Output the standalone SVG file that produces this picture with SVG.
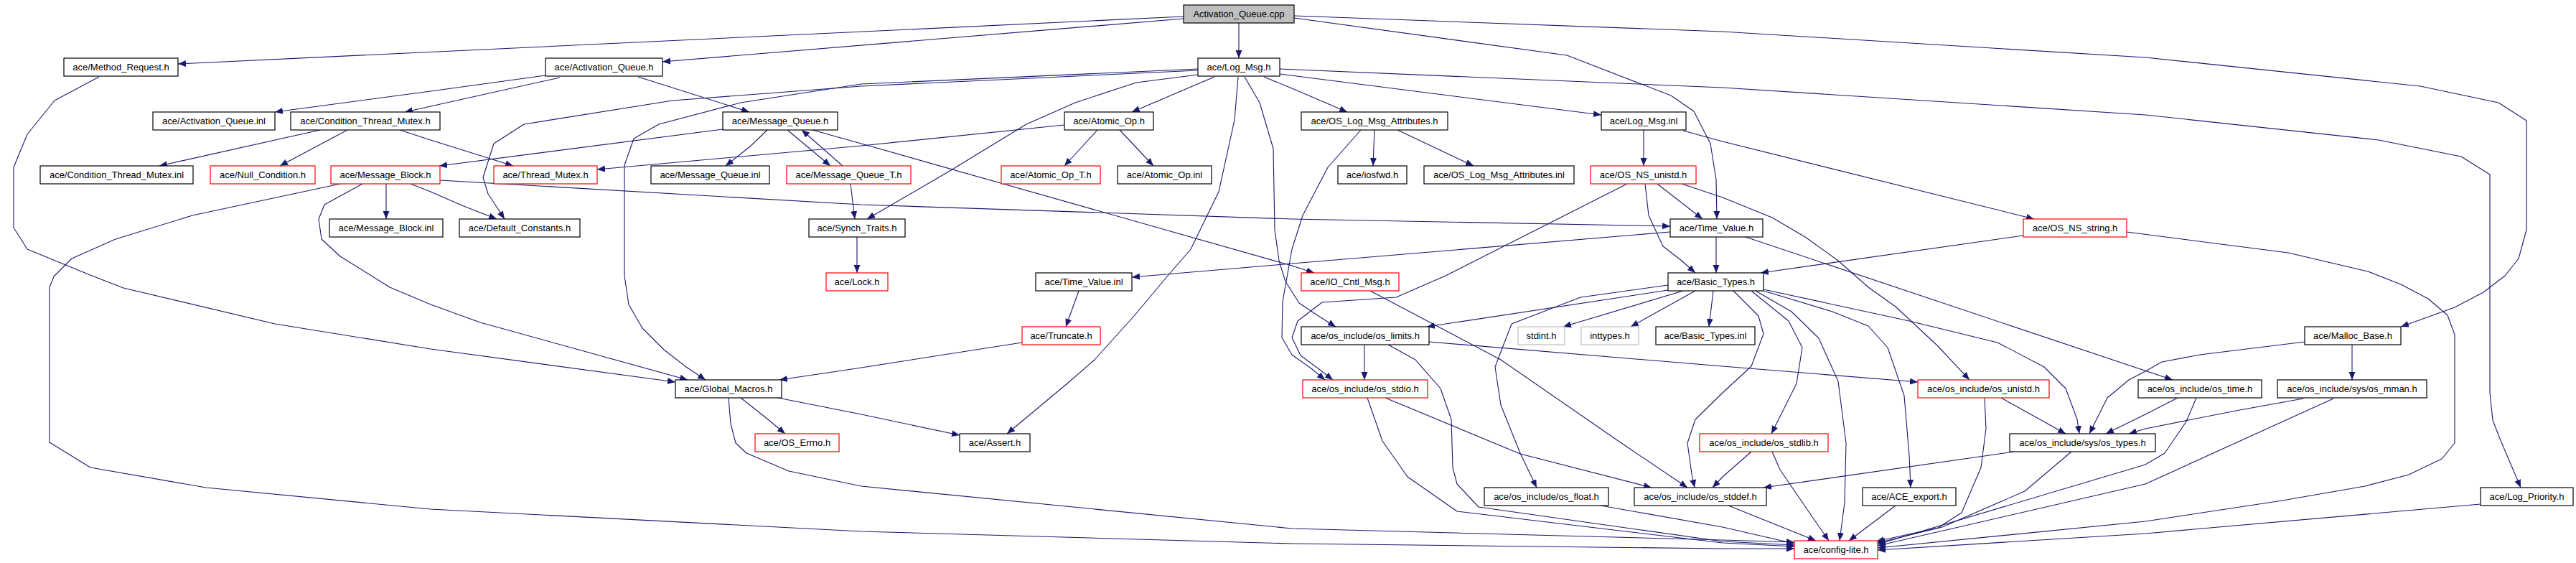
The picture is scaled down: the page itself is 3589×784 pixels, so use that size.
<svg xmlns="http://www.w3.org/2000/svg" width="3589" height="784" viewBox="0 0 3589 784">
<defs>
<marker id="ah" markerWidth="12" markerHeight="10" refX="11" refY="4.5" orient="auto" markerUnits="userSpaceOnUse"><path d="M0,0 L11,4.5 L0,9 z" fill="#191970"/></marker>
<style>
.n rect{fill:#fff;stroke:#000;stroke-width:1.2}
.n.r rect{stroke:#ff0000}
.n.g rect{stroke:#bfbfbf}
.n.root rect{fill:#bfbfbf}
.n text{font-family:"Liberation Sans",Arial,sans-serif;font-size:13px;fill:#000;text-anchor:middle}
#edges path{fill:none;stroke:#191970;stroke-width:1.1;stroke-linejoin:round;marker-end:url(#ah)}
</style>
</defs>
<rect width="3589" height="784" fill="#fff"/>
<g id="edges">
<path d="M1649,23 L248,89"/>
<path d="M1649,26 L923,86"/>
<path d="M1726,32 L1726,81"/>
<path d="M1803,25 L2183,77 L2328,133 L2360,155 L2383,200 L2391,250 L2392,305"/>
<path d="M1803,22 L2400,44 L2989,80 L3372,120 L3481,143 L3520,168 L3520,320 L3509,360 L3490,384 L3460,407 L3420,428 L3345,455"/>
<path d="M1692,107 L1577,156"/>
<path d="M1761,107 L1800,123 L1877,156"/>
<path d="M1783,103 L2231,160"/>
<path d="M1783,96 L2400,122 L2989,160 L3314,195 L3429,218 L3469,243 L3469,547 L3473,585 L3483,611 L3512,679"/>
<path d="M1669,104 L1583,115 L1498,143 L1430,173 L1320,240 L1208,305"/>
<path d="M1669,96 L1200,117 L1032,143 L918,173 L883,193 L870,230 L870,384 L876,424 L895,457 L925,487 L956,511 L983,529"/>
<path d="M1669,98 L1200,120 L937,140 L730,173 L688,200 L673,247 L680,270 L703,305"/>
<path d="M1725,107 L1720,167 L1698,267 L1659,347 L1627,384 L1580,440 L1525,501 L1487,534 L1403,604"/>
<path d="M1734,107 L1755,143 L1774,207 L1776,320 L1782,363 L1791,392 L1810,422 L1840,442 L1861,455"/>
<path d="M138,107 L76,140 L38,187 L19,233 L19,317 L38,347 L128,384 L172,401 L383,451 L600,486 L941,532"/>
<path d="M760,105 L600,127 L383,156"/>
<path d="M780,108 L600,148 L564,156"/>
<path d="M889,107 L1044,156"/>
<path d="M446,181 L222,231"/>
<path d="M484,181 L390,231"/>
<path d="M557,181 L600,195 L715,231"/>
<path d="M1007,180 L612,231"/>
<path d="M1069,181 L1045,204 L1011,231"/>
<path d="M1097,181 L1157,231"/>
<path d="M1174,231 L1117,181"/>
<path d="M1132,181 L1200,200 L1800,370 L1831,380"/>
<path d="M1185,256 L1191,305"/>
<path d="M1194,330 L1194,380"/>
<path d="M1529,181 L1483,231"/>
<path d="M1560,181 L1607,231"/>
<path d="M1483,174 L1200,203 L832,236"/>
<path d="M538,256 L538,305"/>
<path d="M572,256 L600,267 L646,287 L692,305"/>
<path d="M613,251 L1200,285 L1800,305 L2327,315"/>
<path d="M505,256 L452,285 L444,305 L448,333 L474,357 L543,400 L600,424 L669,449 L958,529"/>
<path d="M474,256 L268,300 L161,333 L100,360 L75,385 L69,400 L69,616 L126,651 L287,679 L600,709 L1200,740 L1800,757 L2400,764 L2500,764"/>
<path d="M1503,405 L1485,455"/>
<path d="M1424,477 L1200,512 L1086,529"/>
<path d="M1032,554 L1065,580 L1094,604"/>
<path d="M1084,554 L1200,577 L1337,606"/>
<path d="M1015,554 L1018,590 L1025,617 L1040,631 L1099,656 L1200,677 L1800,736 L2400,752 L2500,755"/>
<path d="M1915,181 L1913,231"/>
<path d="M1947,181 L2053,231"/>
<path d="M1896,181 L1850,233 L1815,300 L1800,347 L1787,420 L1786,470 L1800,494 L1828,514 L1846,529"/>
<path d="M2290,181 L2290,231"/>
<path d="M2345,182 L2400,197 L2834,305"/>
<path d="M2309,256 L2372,305"/>
<path d="M2292,256 L2297,300 L2317,343 L2343,363 L2362,380"/>
<path d="M2343,256 L2400,275 L2469,303 L2515,330 L2561,363 L2603,400 L2641,427 L2699,481 L2744,529"/>
<path d="M2267,256 L2014,384 L1945,414 L1842,421 L1808,447 L1800,470 L1812,495 L1835,512 L1857,529"/>
<path d="M2391,330 L2391,380"/>
<path d="M2327,323 L1800,367 L1577,386"/>
<path d="M2432,330 L3027,529"/>
<path d="M2819,328 L2453,380"/>
<path d="M2963,323 L3188,352 L3299,378 L3345,396 L3383,416 L3410,439 L3420,466 L3420,617 L3402,639 L3356,661 L3295,677 L3180,697 L2989,726 L2616,763"/>
<path d="M2324,404 L1988,455"/>
<path d="M2345,405 L2178,455"/>
<path d="M2362,405 L2272,455"/>
<path d="M2387,405 L2381,455"/>
<path d="M2324,397 L2202,414 L2106,451 L2083,511 L2091,564 L2118,631 L2141,679"/>
<path d="M2415,405 L2450,440 L2457,465 L2440,510 L2400,547 L2362,584 L2351,617 L2357,660 L2361,679"/>
<path d="M2440,405 L2492,447 L2511,484 L2503,534 L2468,604"/>
<path d="M2446,405 L2496,434 L2534,471 L2561,531 L2572,617 L2570,700 L2563,753"/>
<path d="M2457,405 L2553,434 L2603,454 L2630,484 L2653,551 L2660,634 L2662,679"/>
<path d="M2457,403 L2660,447 L2783,477 L2848,511 L2878,541 L2894,584 L2897,604"/>
<path d="M1901,480 L1901,529"/>
<path d="M1991,476 L2400,510 L2672,532"/>
<path d="M1934,480 L1972,501 L2007,541 L2022,584 L2024,651 L2030,674 L2060,706 L2400,754 L2500,759"/>
<path d="M1930,554 L2118,632 L2301,679"/>
<path d="M1905,554 L1926,614 L1961,664 L2030,712 L2400,756 L2500,761"/>
<path d="M1909,405 L2091,501 L2259,617 L2351,679"/>
<path d="M2230,704 L2400,734 L2500,757"/>
<path d="M2408,704 L2530,753"/>
<path d="M2469,629 L2480,654 L2523,717 L2548,753"/>
<path d="M2440,629 L2400,664 L2386,679"/>
<path d="M2806,629 L2457,679"/>
<path d="M2886,629 L2821,684 L2706,734 L2616,756"/>
<path d="M2641,704 L2576,753"/>
<path d="M2788,554 L2878,604"/>
<path d="M2765,554 L2767,597 L2760,651 L2733,714 L2700,735 L2614,754"/>
<path d="M3034,554 L2989,577 L2934,604"/>
<path d="M3060,554 L3046,587 L3016,631 L2989,647 L2616,758"/>
<path d="M3211,476 L3065,494 L3012,504 L2989,517 L2966,529 L2936,554 L2911,604"/>
<path d="M3277,480 L3277,529"/>
<path d="M3209,555 L3115,572 L2989,597 L2966,604"/>
<path d="M3251,555 L2989,674 L2616,760"/>
<path d="M3456,702 L2989,743 L2616,766"/>
</g>
<g id="n_cpp" class="n root"><rect x="1649" y="7" width="154" height="25"/><text x="1726" y="24">Activation_Queue.cpp</text></g>
<g id="n_method_request" class="n"><rect x="89" y="81" width="159" height="25"/><text x="168.5" y="98">ace/Method_Request.h</text></g>
<g id="n_activation_queue_h" class="n"><rect x="760" y="81" width="163" height="25"/><text x="841.5" y="98">ace/Activation_Queue.h</text></g>
<g id="n_log_msg_h" class="n"><rect x="1669" y="81" width="114" height="25"/><text x="1726" y="98">ace/Log_Msg.h</text></g>
<g id="n_activation_queue_inl" class="n"><rect x="213" y="156" width="170" height="25"/><text x="298" y="173">ace/Activation_Queue.inl</text></g>
<g id="n_cond_thread_mutex_h" class="n"><rect x="405" y="156" width="208" height="25"/><text x="509" y="173">ace/Condition_Thread_Mutex.h</text></g>
<g id="n_message_queue_h" class="n"><rect x="1007" y="156" width="160" height="25"/><text x="1087" y="173">ace/Message_Queue.h</text></g>
<g id="n_atomic_op_h" class="n"><rect x="1483" y="156" width="124" height="25"/><text x="1545" y="173">ace/Atomic_Op.h</text></g>
<g id="n_os_log_msg_attr_h" class="n"><rect x="1813" y="156" width="204" height="25"/><text x="1915" y="173">ace/OS_Log_Msg_Attributes.h</text></g>
<g id="n_log_msg_inl" class="n"><rect x="2231" y="156" width="118" height="25"/><text x="2290" y="173">ace/Log_Msg.inl</text></g>
<g id="n_cond_thread_mutex_inl" class="n"><rect x="56" y="231" width="213" height="25"/><text x="162.5" y="248">ace/Condition_Thread_Mutex.inl</text></g>
<g id="n_null_condition" class="n r"><rect x="293" y="231" width="146" height="25"/><text x="366" y="248">ace/Null_Condition.h</text></g>
<g id="n_message_block_h" class="n r"><rect x="461" y="231" width="152" height="25"/><text x="537" y="248">ace/Message_Block.h</text></g>
<g id="n_thread_mutex" class="n r"><rect x="688" y="231" width="144" height="25"/><text x="760" y="248">ace/Thread_Mutex.h</text></g>
<g id="n_message_queue_inl" class="n"><rect x="907" y="231" width="165" height="25"/><text x="989.5" y="248">ace/Message_Queue.inl</text></g>
<g id="n_message_queue_t" class="n r"><rect x="1096" y="231" width="173" height="25"/><text x="1182.5" y="248">ace/Message_Queue_T.h</text></g>
<g id="n_atomic_op_t" class="n r"><rect x="1395" y="231" width="138" height="25"/><text x="1464" y="248">ace/Atomic_Op_T.h</text></g>
<g id="n_atomic_op_inl" class="n"><rect x="1557" y="231" width="131" height="25"/><text x="1622.5" y="248">ace/Atomic_Op.inl</text></g>
<g id="n_iosfwd" class="n"><rect x="1864" y="231" width="96" height="25"/><text x="1912" y="248">ace/iosfwd.h</text></g>
<g id="n_os_log_msg_attr_inl" class="n"><rect x="1984" y="231" width="209" height="25"/><text x="2088.5" y="248">ace/OS_Log_Msg_Attributes.inl</text></g>
<g id="n_os_ns_unistd" class="n r"><rect x="2216" y="231" width="147" height="25"/><text x="2289.5" y="248">ace/OS_NS_unistd.h</text></g>
<g id="n_message_block_inl" class="n"><rect x="459" y="305" width="158" height="25"/><text x="538" y="322">ace/Message_Block.inl</text></g>
<g id="n_default_constants" class="n"><rect x="640" y="305" width="168" height="25"/><text x="724" y="322">ace/Default_Constants.h</text></g>
<g id="n_synch_traits" class="n"><rect x="1127" y="305" width="134" height="25"/><text x="1194" y="322">ace/Synch_Traits.h</text></g>
<g id="n_time_value_h" class="n"><rect x="2327" y="305" width="129" height="25"/><text x="2391.5" y="322">ace/Time_Value.h</text></g>
<g id="n_os_ns_string" class="n r"><rect x="2819" y="305" width="144" height="25"/><text x="2891" y="322">ace/OS_NS_string.h</text></g>
<g id="n_lock" class="n r"><rect x="1151" y="380" width="86" height="25"/><text x="1194" y="397">ace/Lock.h</text></g>
<g id="n_time_value_inl" class="n"><rect x="1443" y="380" width="134" height="25"/><text x="1510" y="397">ace/Time_Value.inl</text></g>
<g id="n_io_cntl_msg" class="n r"><rect x="1813" y="380" width="136" height="25"/><text x="1881" y="397">ace/IO_Cntl_Msg.h</text></g>
<g id="n_basic_types_h" class="n"><rect x="2324" y="380" width="133" height="25"/><text x="2390.5" y="397">ace/Basic_Types.h</text></g>
<g id="n_truncate" class="n r"><rect x="1424" y="455" width="109" height="25"/><text x="1478.5" y="472">ace/Truncate.h</text></g>
<g id="n_os_limits" class="n"><rect x="1813" y="455" width="178" height="25"/><text x="1902" y="472">ace/os_include/os_limits.h</text></g>
<g id="n_stdint" class="n g"><rect x="2115" y="455" width="65" height="25"/><text x="2147.5" y="472">stdint.h</text></g>
<g id="n_inttypes" class="n g"><rect x="2203" y="455" width="80" height="25"/><text x="2243" y="472">inttypes.h</text></g>
<g id="n_basic_types_inl" class="n"><rect x="2307" y="455" width="138" height="25"/><text x="2376" y="472">ace/Basic_Types.inl</text></g>
<g id="n_malloc_base" class="n"><rect x="3211" y="455" width="134" height="25"/><text x="3278" y="472">ace/Malloc_Base.h</text></g>
<g id="n_global_macros" class="n"><rect x="941" y="529" width="148" height="25"/><text x="1015" y="546">ace/Global_Macros.h</text></g>
<g id="n_os_stdio" class="n r"><rect x="1815" y="529" width="174" height="25"/><text x="1902" y="546">ace/os_include/os_stdio.h</text></g>
<g id="n_os_unistd" class="n r"><rect x="2672" y="529" width="183" height="25"/><text x="2763.5" y="546">ace/os_include/os_unistd.h</text></g>
<g id="n_os_time" class="n"><rect x="2979" y="529" width="172" height="25"/><text x="3065" y="546">ace/os_include/os_time.h</text></g>
<g id="n_os_mman" class="n"><rect x="3173" y="529" width="208" height="25"/><text x="3277" y="546">ace/os_include/sys/os_mman.h</text></g>
<g id="n_os_errno" class="n r"><rect x="1052" y="604" width="117" height="25"/><text x="1110.5" y="621">ace/OS_Errno.h</text></g>
<g id="n_assert" class="n"><rect x="1337" y="604" width="98" height="25"/><text x="1386" y="621">ace/Assert.h</text></g>
<g id="n_os_stdlib" class="n r"><rect x="2368" y="604" width="179" height="25"/><text x="2457.5" y="621">ace/os_include/os_stdlib.h</text></g>
<g id="n_sys_os_types" class="n"><rect x="2800" y="604" width="203" height="25"/><text x="2901.5" y="621">ace/os_include/sys/os_types.h</text></g>
<g id="n_os_float" class="n"><rect x="2068" y="679" width="173" height="25"/><text x="2154.5" y="696">ace/os_include/os_float.h</text></g>
<g id="n_os_stddef" class="n"><rect x="2277" y="679" width="184" height="25"/><text x="2369" y="696">ace/os_include/os_stddef.h</text></g>
<g id="n_ace_export" class="n"><rect x="2595" y="679" width="130" height="25"/><text x="2660" y="696">ace/ACE_export.h</text></g>
<g id="n_log_priority" class="n"><rect x="3456" y="679" width="129" height="25"/><text x="3520.5" y="696">ace/Log_Priority.h</text></g>
<g id="n_config_lite" class="n r"><rect x="2500" y="753" width="116" height="25"/><text x="2558" y="770">ace/config-lite.h</text></g>
</svg>
